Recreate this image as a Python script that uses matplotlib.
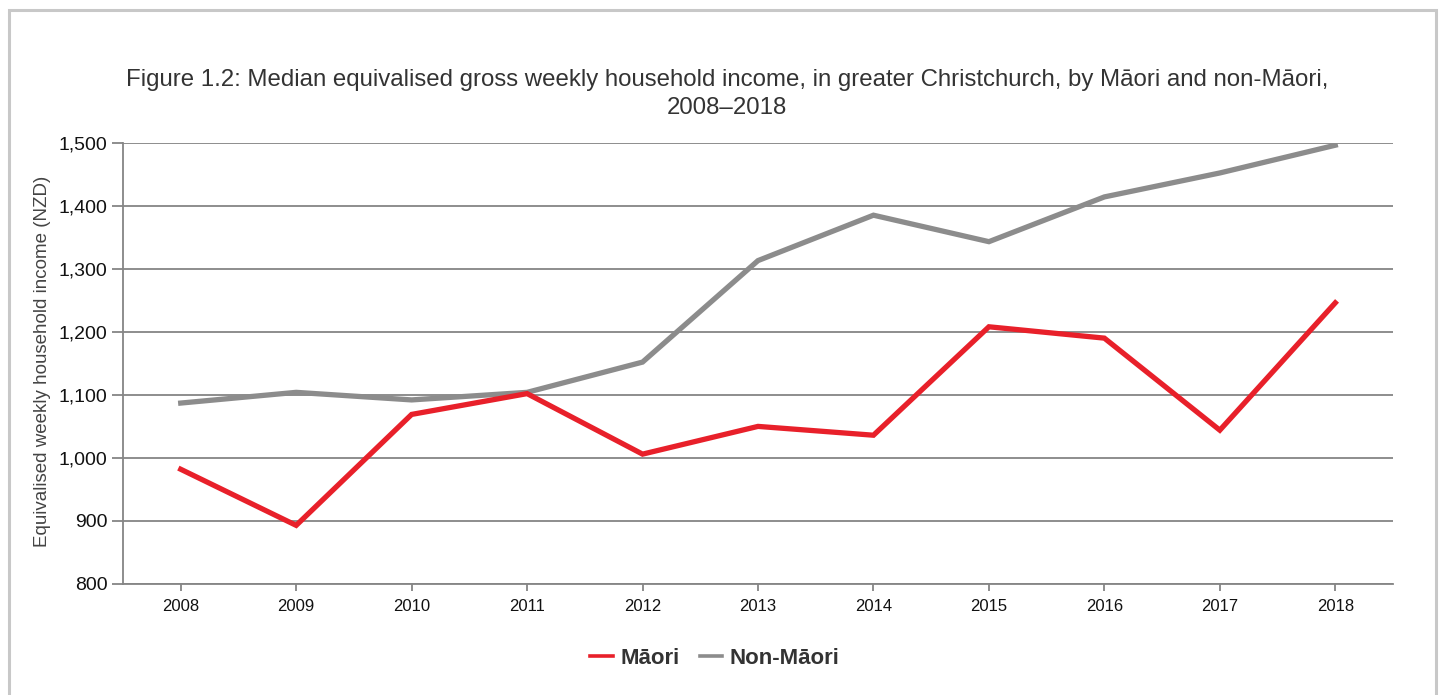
import matplotlib
matplotlib.use("Agg")
import matplotlib.pyplot as plt
from matplotlib.patches import Rectangle
from matplotlib.ticker import FuncFormatter

# ========= DATA
years = ["2008", "2009", "2010", "2011", "2012", "2013",
         "2014", "2015", "2016", "2017", "2018"]
maori = [982, 893, 1069, 1102, 1006, 1050, 1036, 1208, 1190, 1044, 1246]
non_maori = [1087, 1104, 1092, 1104, 1152, 1313, 1385, 1343, 1414, 1452, 1496]

# ========= STYLE
plt.rcParams.update({
    "font.family": ["Liberation Sans", "DejaVu Sans"],
})
RED = "#e8202a"
GREY = "#8c8c8c"
AXIS = "#858585"

fig = plt.figure(figsize=(14.42, 6.95), dpi=100)
ax = fig.add_axes([123 / 1442, 1 - 584 / 695, 1270 / 1442, (584 - 142.7) / 695])

# outer frame around the figure
fig.patches.append(Rectangle((9 / 1442, -0.05), 1427 / 1442, 1 - 10 / 695 + 0.05,
                             transform=fig.transFigure, fill=False,
                             edgecolor="#c8c8c8", linewidth=2.2))

x = range(len(years))
ax.plot(x, maori, color=RED, linewidth=3.8, label="Māori", zorder=3,
        solid_joinstyle="miter")
ax.plot(x, non_maori, color=GREY, linewidth=3.8, label="Non-Māori", zorder=2,
        solid_joinstyle="miter")

ax.set_xlim(-0.5, len(years) - 0.5)
ax.set_ylim(800, 1500)
ax.set_xticks(list(x))
ax.set_xticklabels(years)
ax.set_yticks(range(800, 1501, 100))
ax.yaxis.set_major_formatter(FuncFormatter(lambda v, p: f"{int(v):,}"))

ax.grid(axis="y", color=AXIS, linewidth=1.3)
ax.set_axisbelow(True)
for side in ["top", "right"]:
    ax.spines[side].set_visible(False)
for side in ["left", "bottom"]:
    ax.spines[side].set_color(AXIS)
    ax.spines[side].set_linewidth(1.3)

ax.tick_params(axis="y", length=8, width=1.3, color=AXIS, pad=3,
               labelsize=14, labelcolor="#111111")
ax.tick_params(axis="x", length=5, width=1.3, color=AXIS, pad=6,
               labelsize=12, labelcolor="#111111")

# ========= TEXTS
fig.text(727 / 1442, 1 - 94 / 695,
         "Figure 1.2: Median equivalised gross weekly household income, in greater Christchurch, by Māori and non-Māori,\n2008–2018",
         ha="center", va="center", fontsize=17.3, color="#333333", linespacing=1.38)

fig.text(43 / 1442, 1 - 361 / 695, "Equivalised weekly household income (NZD)",
         rotation=90, ha="center", va="center", fontsize=13.5, color="#444444")

leg = fig.legend(loc="center", bbox_to_anchor=(715 / 1442, 1 - 658 / 695),
                 ncol=2, frameon=False, handlelength=1.0, handletextpad=0.35,
                 columnspacing=0.9, prop={"weight": "bold", "size": 16})
for t in leg.get_texts():
    t.set_color("#333333")
for h in leg.get_lines():
    h.set_linewidth(2.6)

fig.savefig("out.png", dpi=100)
